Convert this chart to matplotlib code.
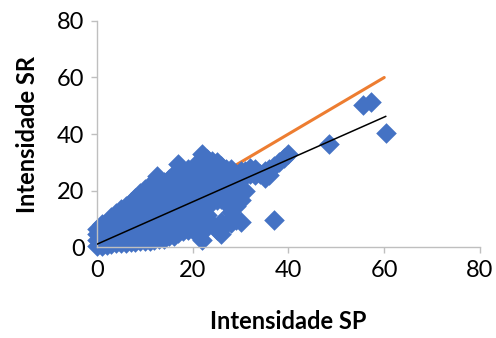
import numpy as np
import matplotlib
matplotlib.use("Agg")
import matplotlib.pyplot as plt

plt.rcParams['font.family'] = ['Lato', 'DejaVu Sans']

# Intensidade SP (x) por linha, e os valores de SR medidos em cada uma
sp_rows = [0, 1, 2, 3, 4, 5, 6, 7, 8, 9, 10, 11, 12, 12.5, 13, 14, 15, 16, 17,
           18, 19, 20, 21, 22, 23, 24, 25, 26, 27, 28, 29, 30, 31, 32, 33, 34,
           35, 36, 37, 38, 39, 40, 48.5, 55.6, 57.3, 60.3]
sr_rows = [
    [0.3, 2.5, 4.5, 6.5],
    [0.5, 3.0, 5.5, 8.0],
    [0.8, 3.5, 6.0, 9.0],
    [1.2, 4.0, 7.0, 10.5],
    [1.3, 4.5, 7.5, 10.0, 12.0],
    [1.5, 4.0, 7.0, 10.5, 13.5],
    [1.5, 5.0, 8.0, 11.0, 14.5],
    [1.8, 4.5, 7.5, 10.5, 13.0, 16.0],
    [1.8, 5.0, 8.5, 11.5, 14.5, 17.5],
    [2.0, 5.5, 8.0, 11.0, 14.0, 17.0, 19.0],
    [2.0, 5.0, 8.5, 12.0, 15.0, 18.0, 20.5],
    [2.2, 6.0, 9.0, 12.5, 16.0, 19.0, 22.0],
    [2.5, 5.5, 9.5, 13.0, 16.5, 20.0, 23.0],
    [25.0],
    [3.0, 7.0, 10.5, 14.0, 17.5, 20.5, 22.0],
    [3.0, 6.5, 10.0, 13.5, 17.0, 20.0, 23.0],
    [4.0, 7.5, 11.0, 14.5, 18.0, 21.0, 24.0],
    [4.0, 8.0, 12.0, 15.5, 19.0, 22.5, 26.0],
    [5.0, 8.5, 12.5, 16.0, 20.0, 24.0, 29.5],
    [5.5, 9.0, 13.0, 17.0, 21.0, 24.5, 27.0],
    [6.0, 10.0, 14.0, 18.0, 22.0, 25.0, 27.5],
    [6.0, 9.5, 13.5, 17.5, 21.0, 24.5, 28.0],
    [6.5, 10.5, 15.0, 19.0, 23.0, 26.5, 30.0],
    [2.4, 8.0, 12.0, 16.0, 20.0, 24.0, 28.0, 33.0],
    [7.0, 11.5, 17.0, 21.0, 25.0, 29.0, 31.0],
    [8.3, 16.0, 19.5, 23.5, 27.0, 30.5],
    [6.0, 16.5, 20.5, 24.0, 27.5, 30.0],
    [4.7, 9.0, 17.0, 21.0, 25.0, 28.5],
    [8.0, 15.5, 19.0, 23.0, 27.5],
    [8.4, 12.5, 16.0, 20.5, 24.5, 27.5],
    [9.5, 14.5, 18.0, 22.0, 26.0],
    [9.0, 16.5, 20.5, 24.0, 27.0],
    [20.0, 25.0, 27.0],
    [26.0, 28.0],
    [25.5, 27.5],
    [26.0],
    [24.5, 27.0],
    [25.5, 27.5],
    [9.5, 28.5],
    [30.0],
    [31.5],
    [33.0],
    [36.3],
    [50.2],
    [51.4],
    [40.5],
]

# linha 1:1 e linha de tendencia linear
ref_x = [0, 60]
trend_slope = 0.75
trend_icpt = 1.0

sp = []
sr = []
for x, ys in zip(sp_rows, sr_rows):
    for y in ys:
        sp.append(x)
        sr.append(y)

fig = plt.figure(figsize=(4.96, 3.38), dpi=100)
ax = fig.add_axes([0.1956, 0.2692, 0.9677 - 0.1956, 0.9379 - 0.2692])

# a linha 1:1 fica por baixo dos pontos, a tendencia por cima
ax.plot(ref_x, ref_x, color='#ED7D31', lw=2.2, solid_capstyle='round', zorder=1)
ax.scatter(sp, sr, marker='D', s=110, color='#4472C4', linewidths=0, zorder=2,
           clip_on=False)
tx = np.array([min(sp), max(sp)])
ax.plot(tx, trend_slope * tx + trend_icpt, color='black', lw=1.1, zorder=3)

ax.set_xlim(0, 80)
ax.set_ylim(0, 80)
ax.set_xticks([0, 20, 40, 60, 80])
ax.set_yticks([0, 20, 40, 60, 80])

for s in ['top', 'right']:
    ax.spines[s].set_visible(False)
for s in ['left', 'bottom']:
    ax.spines[s].set_color('#BFBFBF')
    ax.spines[s].set_linewidth(1)
ax.tick_params(colors='#BFBFBF', labelcolor='black', length=4, width=1,
               labelsize=17, pad=5)

ax.set_xlabel('Intensidade SP', fontsize=17, fontweight='bold', labelpad=21)
ax.set_ylabel('Intensidade SR', fontsize=17, fontweight='bold', labelpad=13)

fig.savefig('out.png', dpi=100)
